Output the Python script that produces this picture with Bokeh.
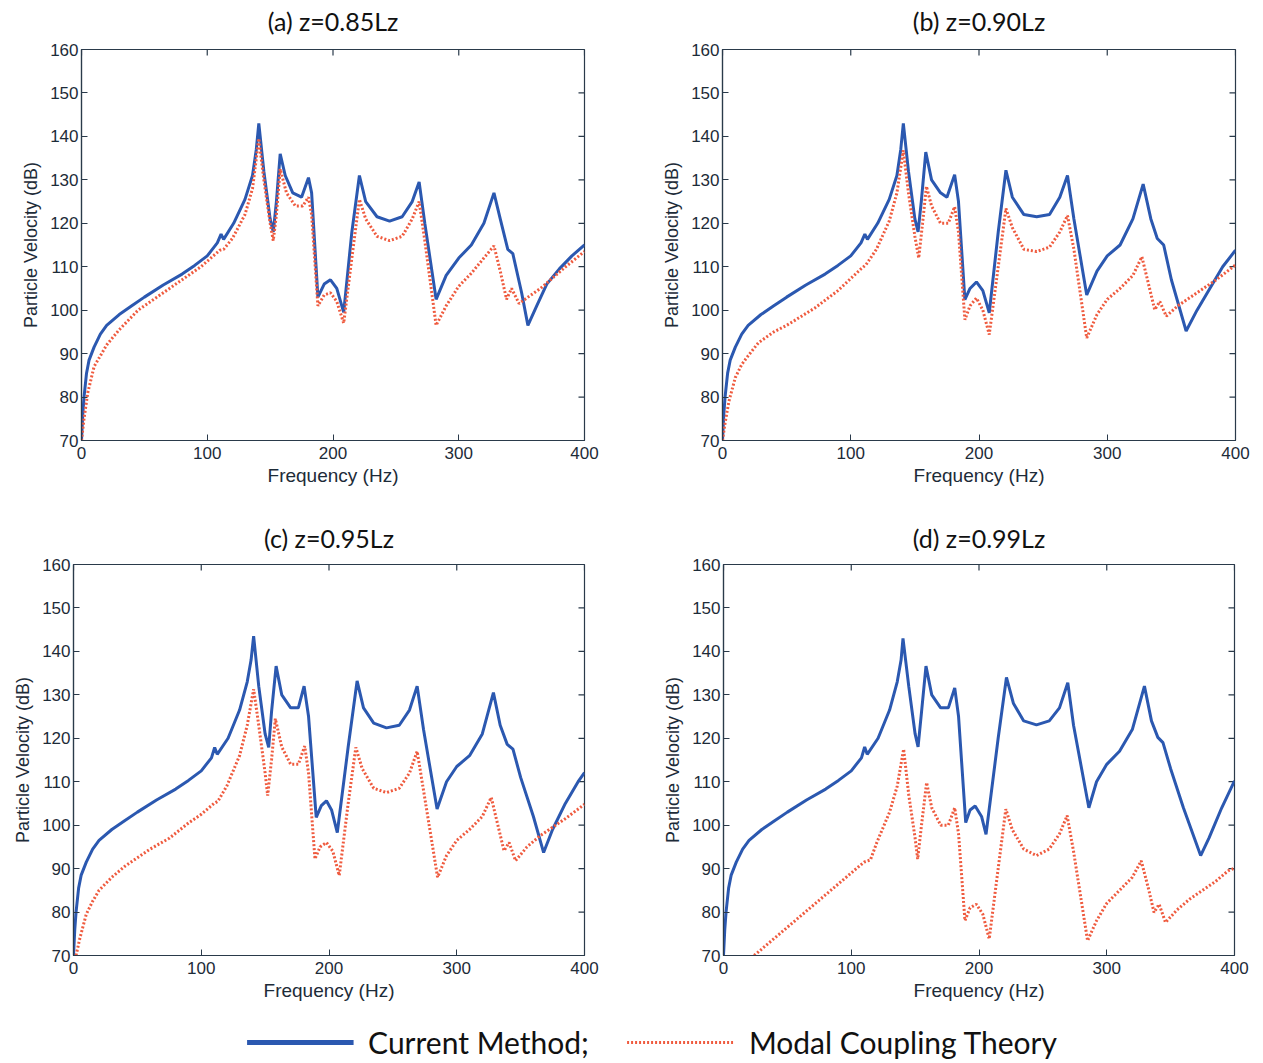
import math
from bokeh.plotting import figure
from bokeh.layouts import column, row
from bokeh.models import FixedTicker, Range1d, Legend, LegendItem
from bokeh.core.properties import value
from bokeh.embed import file_html
from bokeh.resources import INLINE

titles = ["(a) z=0.85Lz", "(b) z=0.90Lz", "(c) z=0.95Lz", "(d) z=0.99Lz"]
x_ticks = [0, 100, 200, 300, 400]
y_ticks = [70, 80, 90, 100, 110, 120, 130, 140, 150, 160]
legend_labels = ["Current Method;", "Modal Coupling Theory"]

# low-frequency part of the "Current Method" curve (same in every panel)
freq_low = [0, 1, 2, 4, 6, 10, 15, 20, 30, 40, 50, 65, 80, 90, 100]
db_low = [70, 76, 80, 85.5, 88.5, 91.5, 94.5, 96.5, 99, 101, 103, 105.8, 108.3, 110.3, 112.5]

# ---- (a) z=0.85Lz ----
freq_a_cur = freq_low + [108, 111, 113, 121, 130, 136, 139, 141,
              145, 150, 152.5, 155, 158, 162, 168, 175, 180.5, 183, 188, 193, 198, 203, 208.5, 215, 221,
              226, 235, 245, 255, 263, 268.5, 273, 282, 290, 300, 310, 320, 328, 333, 339, 343, 350, 355,
              362, 370, 380, 390, 400]
db_a_cur = db_low + [115.5, 117.5, 116.3, 120, 125.5, 131, 137, 143,
            132, 121, 118, 125, 136, 131, 127, 126, 130.5, 127, 103, 106, 107, 105, 99.5, 118, 131,
            125, 121.5, 120.5, 121.5, 125, 129.5, 120, 102.5, 108, 112, 115, 120, 127, 121, 114, 113, 104,
            96.5, 101, 106, 109.5, 112.5, 115]
freq_a_mct = [0, 2, 5, 10, 20, 30, 45, 60, 75, 95, 110, 113, 120, 130, 136, 141,
              145, 150, 152.5, 155, 158, 163, 170, 176, 180.5, 183, 188, 193, 198, 203, 208.5, 215, 221,
              226, 235, 245, 255, 263, 268.5, 273, 282, 290, 300, 310, 320, 328, 333, 338, 342, 348,
              355, 365, 375, 385, 400]
db_a_mct = [70, 75, 81, 87, 92, 95.5, 100, 103, 106, 110, 113.8, 114, 116.5, 122, 128, 139.5,
            130, 120, 116, 122, 132.5, 127, 124, 124, 126, 122, 101, 103.5, 104, 102, 97, 112, 125.5,
            121, 117, 116, 117, 121, 125, 116, 96.5, 101, 105.5, 108.5, 112, 114.8, 109, 102.5, 105,
            101.5, 103, 105, 107.5, 110, 113.5]

# ---- (b) z=0.90Lz ----
freq_b_cur = freq_low + [108, 111, 113, 121, 130, 136, 139, 141,
              145, 150, 152.5, 155, 158.5, 163, 170, 175, 181, 184, 189, 193, 198, 203, 208, 215, 221,
              226, 235, 245, 255, 263, 269, 274, 284, 292, 300, 310, 320, 328, 334, 339, 344, 350, 361.5,
              370, 380, 390, 400]
db_b_cur = db_low + [115.5, 117.5, 116.3, 120, 125.5, 131, 137, 143,
            132, 121, 118, 125, 136.4, 130, 127, 126, 131.2, 125, 102.4, 105, 106.5, 104.5, 99.4, 118, 132.2,
            126, 122, 121.5, 122, 126, 131, 121, 103.5, 109, 112.5, 115, 121, 129, 121, 116.5, 115, 107,
            95.2, 100, 105, 110, 113.8]
freq_b_mct = [0, 2, 5, 10, 15, 20, 28, 40, 50, 72, 90, 108, 112, 120, 130, 136, 141,
              145, 150, 153, 156, 159, 163, 170, 176, 181, 184, 189, 193, 198, 203, 208, 215, 221,
              226, 235, 245, 255, 263, 269, 274, 284, 292, 300, 310, 320, 327, 333, 337, 341, 346,
              355, 365, 375, 385, 400]
db_b_mct = [70, 74, 79, 84.5, 87.5, 89.5, 92.5, 95, 96.5, 100.5, 104.5, 109.5, 110.5, 114, 120.5, 127, 136.8,
            127, 117, 112, 120, 128.5, 124, 120, 120, 123.8, 118, 97.8, 101, 102.8, 100, 94.4, 110, 123.4,
            119, 114, 113.5, 114.5, 118, 121.8, 114, 93.6, 99, 102.5, 105, 108, 112.3, 105, 100.1, 102,
            98.6, 101, 103, 105, 107, 110.4]

# ---- (c) z=0.95Lz ----
freq_c_cur = freq_low + [108, 110.5, 112.5, 121, 130, 136, 139, 141,
              145, 150, 152.8, 155, 158.6, 163, 170, 176, 180.5, 184, 190, 194, 198, 202, 206.5, 215, 222,
              227, 235, 245, 255, 263, 269, 274, 284.6, 292, 300, 310, 320, 328.7, 334, 339.5, 344, 350,
              360, 368, 375, 385, 395, 400]
db_c_cur = db_low + [115.5, 117.9, 116.3, 120, 126.5, 133, 138, 143.5,
            132, 121, 117.9, 126, 136.6, 130, 127, 127, 132, 125, 101.8, 104.5, 105.6, 103.5, 98.3, 118, 133.2,
            127, 123.5, 122.4, 123, 126.5, 132, 122, 103.7, 110, 113.5, 116, 121, 130.5, 123, 118.6, 117.5,
            111, 102, 93.7, 99, 105, 110, 112.1]
freq_c_mct = [2, 5, 10, 15, 20, 30, 40, 50, 60, 75, 90, 100, 110, 113, 120, 130, 136, 141,
              145, 150, 152, 155, 158, 163, 170, 176, 181, 184, 189, 193, 198, 203, 208, 215, 221,
              226, 235, 245, 255, 263, 269, 274, 285, 292, 300, 310, 320, 327, 333, 337, 341, 346,
              355, 365, 375, 385, 400]
db_c_mct = [70, 74, 79.5, 82.5, 85, 88, 90.5, 92.5, 94.5, 97, 100.5, 102.5, 105, 105.5, 109, 116, 123, 131.3,
            123, 112, 106.8, 115, 124.5, 118, 114, 114, 118.2, 112, 92.2, 95, 96, 94, 88.4, 105, 117.9,
            113, 108.5, 107.5, 108.5, 112, 117, 108, 88, 93, 96.5, 99, 102, 106.4, 99, 94.1, 96,
            91.8, 95, 97.5, 99.5, 101.5, 104.8]

# ---- (d) z=0.99Lz ----
freq_d_cur = freq_low + [108, 110.5, 112.5, 121, 130, 136, 139, 140.5,
              145, 150, 152.3, 155, 158.5, 163, 170, 176, 181, 184, 189.6, 193, 197, 202, 205.5, 215, 221.5,
              227, 235, 245, 255, 263, 269.5, 274, 286, 292, 300, 310, 320, 329.5, 335, 340, 344, 350,
              360, 373.5, 380, 390, 400]
db_d_cur = db_low + [115.5, 118, 116.3, 120, 126.5, 133, 138, 143,
            132, 121, 118, 126, 136.6, 130, 127, 127, 131.6, 125, 100.6, 103.5, 104.4, 102, 97.9, 120, 134,
            128, 124, 123.1, 124, 127, 132.8, 123, 104, 110, 114, 117, 122, 132, 124, 120.2, 119,
            113, 104, 93, 97, 104, 110.2]
freq_d_mct = [24, 30, 40, 50, 60, 70, 80, 90, 100, 110, 115, 120, 130, 136, 141,
              145, 150, 152, 155, 159, 163, 170, 176, 181, 184, 189, 193, 198, 203, 208, 215, 221,
              226, 235, 245, 255, 263, 269, 274, 285, 292, 300, 310, 320, 327, 333, 337, 341, 346,
              355, 365, 375, 385, 395, 400]
db_d_mct = [70, 71.5, 74, 76.5, 79, 81.5, 84, 86.5, 89, 91.5, 92, 96, 103, 109, 117.5,
            107, 97, 92.2, 100, 109.8, 104, 100, 100, 104, 98, 78, 81, 81.8, 79.5, 73.8, 90, 103.7,
            99, 94.5, 93, 94.5, 98, 102.2, 94, 73.4, 78, 82, 85, 88, 91.8, 85, 79.9, 81.8,
            77.6, 80.5, 83, 85, 87, 89.5, 90.1]

panels = [
    (titles[0], freq_a_cur, db_a_cur, freq_a_mct, db_a_mct),
    (titles[1], freq_b_cur, db_b_cur, freq_b_mct, db_b_mct),
    (titles[2], freq_c_cur, db_c_cur, freq_c_mct, db_c_mct),
    (titles[3], freq_d_cur, db_d_cur, freq_d_mct, db_d_mct),
]

BLUE = "#2B58B0"
RED = "#EF5B3F"
AX = "#2a3a4a"
TXT = "#1d2b38"

# width, plot height, left, right, top, bottom borders, title strip height, title centre from strip top
geoms = [
    (640, 465, 81, 56, 9, 65, 40, 20),
    (623, 465, 82, 28, 9, 65, 40, 20),
    (640, 459, 73, 56, 13, 55, 46, 32),
    (623, 459, 83, 29, 13, 55, 46, 32),
]

cells = []
for (title, fc, dc, fm, dm), (w, h, bl, br, bt, bb, th, tc) in zip(panels, geoms):
    # title strip, sharing the panel's horizontal frame
    t = figure(width=w, height=th, output_backend="svg", toolbar_location=None,
               x_range=Range1d(x_ticks[0], x_ticks[-1]), y_range=Range1d(0, th),
               min_border_left=bl, min_border_right=br, min_border_top=0, min_border_bottom=0,
               outline_line_color=None)
    t.axis.visible = False
    t.grid.visible = False
    t.text(x=[(x_ticks[0] + x_ticks[-1]) / 2], y=[th - tc], text=[title],
           text_align="center", text_baseline="middle", text_font=value("Lato"),
           text_font_size="25px", text_color="#111111")

    p = figure(width=w, height=h, output_backend="svg", toolbar_location=None,
               x_range=Range1d(x_ticks[0], x_ticks[-1]), y_range=Range1d(y_ticks[0], y_ticks[-1]),
               min_border_left=bl, min_border_right=br, min_border_top=bt, min_border_bottom=bb,
               x_axis_label="Frequency (Hz)", y_axis_label="Particle Velocity (dB)")
    p.grid.visible = False
    p.outline_line_color = AX
    p.outline_line_width = 1.2
    p.background_fill_color = "white"
    p.border_fill_color = "white"
    p.xaxis.ticker = FixedTicker(ticks=x_ticks)
    p.yaxis.ticker = FixedTicker(ticks=y_ticks)
    for ax in p.xaxis + p.yaxis:
        ax.axis_line_color = AX
        ax.axis_line_width = 1.2
        ax.major_tick_in = 6
        ax.major_tick_out = 0
        ax.major_tick_line_color = AX
        ax.minor_tick_line_color = None
        ax.major_label_text_font = "Liberation Sans"
        ax.major_label_text_font_size = "17px"
        ax.major_label_text_color = TXT
        ax.major_label_standoff = 3
        ax.axis_label_text_font = "Liberation Sans"
        ax.axis_label_text_font_style = "normal"
        ax.axis_label_text_color = TXT
    p.xaxis.major_label_standoff = 6
    p.xaxis.axis_label_text_font_size = "19px"
    p.xaxis.axis_label_standoff = 3
    p.yaxis.axis_label_text_font_size = "18px"
    p.yaxis.axis_label_standoff = 6
    # inward tick marks on the top and right edges of the box
    p.ray(x=x_ticks, y=[y_ticks[-1]] * len(x_ticks), length=6, length_units="screen",
          angle=-math.pi / 2, line_color=AX, line_width=1.2)
    p.ray(x=[x_ticks[-1]] * len(y_ticks), y=y_ticks, length=6, length_units="screen",
          angle=math.pi, line_color=AX, line_width=1.2)
    p.line(fc, dc, line_color=BLUE, line_width=3)
    p.line(fm, dm, line_color=RED, line_width=3, line_dash="2 2")
    cells.append(column(t, p))

# legend strip
lg = figure(width=1263, height=53, output_backend="svg", toolbar_location=None,
            x_range=Range1d(0, 1), y_range=Range1d(0, 1),
            min_border=0, min_border_left=40, min_border_top=10, outline_line_color=None)
lg.axis.visible = False
lg.grid.visible = False
r1 = lg.line([-5, -4], [-5, -4], line_color=BLUE, line_width=5)
r2 = lg.line([-5, -4], [-5, -4], line_color=RED, line_width=3, line_dash="2 2")
legend = Legend(items=[LegendItem(label=legend_labels[0], renderers=[r1]),
                       LegendItem(label=legend_labels[1], renderers=[r2])],
                orientation="horizontal", location="center",
                border_line_color=None, background_fill_alpha=0,
                glyph_width=107, glyph_height=20, label_standoff=15, spacing=38,
                label_text_font="Lato", label_text_font_size="30px", label_text_color="#111111",
                padding=0, margin=0)
lg.add_layout(legend, "center")

layout = column(row(cells[0], cells[1]), row(cells[2], cells[3]), lg)
open("out.html", "w").write(file_html(layout, INLINE))
